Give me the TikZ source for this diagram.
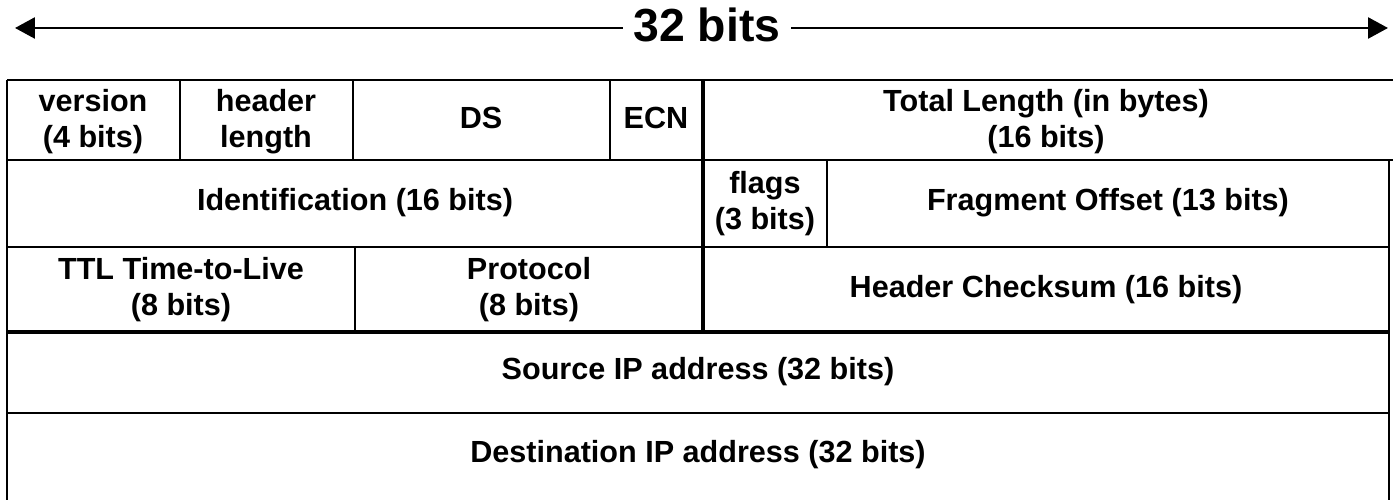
\documentclass[tikz,border=0pt]{standalone}
\usepackage{fontspec}
\setmainfont{Liberation Sans}
\usetikzlibrary{arrows.meta}

\tikzset{
  field/.style={align=center, inner sep=0pt, font=\fontsize{8.7}{10.2}\selectfont\bfseries},
  rule/.style={line width=0.8pt},
  heavyrule/.style={line width=1.2pt},
  span/.style={line width=0.75pt, -{Triangle[length=0.2cm, width=0.21cm]}},
}

\begin{document}
\begin{tikzpicture}
        \useasboundingbox (0,0) rectangle (13.93,5);
        % width arrow
        \coordinate (lend) at (0.15,4.72);
        \coordinate (rend) at (13.88,4.72);
        \node[inner xsep=0.1cm, inner ysep=0pt, font=\fontsize{13.2}{15}\selectfont\bfseries] (title) at (7.07,4.755) {32 bits};
        \draw[span] (title.west |- lend) -- (lend);
        \draw[span] (title.east |- rend) -- (rend);
        % outer frame and rows
        \draw[rule] (0.07,4.20) -- (13.93,4.20);
        \draw[rule] (0.07,4.20) -- (0.07,0);
        \draw[rule] (0.07,3.40) -- (13.93,3.40);
        \draw[rule] (13.89,3.40) -- (13.89,0);
        \draw[rule] (0.07,2.53) -- (13.89,2.53);
        \draw[heavyrule] (0.07,1.68) -- (13.89,1.68);
        \draw[line width=0.6pt] (0.07,0.87) -- (13.89,0.87);
        % column dividers
        \draw[rule] (1.80,4.20) -- (1.80,3.40);
        \draw[rule] (3.53,4.20) -- (3.53,3.40);
        \draw[rule] (6.10,4.20) -- (6.10,3.40);
        \draw[heavyrule] (7.03,4.20) -- (7.03,1.68);
        \draw[rule] (8.27,3.40) -- (8.27,2.53);
        \draw[rule] (3.55,2.53) -- (3.55,1.68);
        % fields
        \node[field] (version) at (0.93,3.78) {version\\(4 bits)};
        \node[field] (hlen) at (2.66,3.78) {header\\length};
        \node[field] (ds) at (4.81,3.82) {DS};
        \node[field] (ecn) at (6.56,3.82) {ECN};
        \node[field] (tlen) at (10.46,3.78) {Total Length (in bytes)\\(16 bits)};
        \node[field] (ident) at (3.55,2.97) {Identification (16 bits)};
        \node[field] (flags) at (7.65,2.96) {flags\\(3 bits)};
        \node[field] (frag) at (11.08,2.97) {Fragment Offset (13 bits)};
        \node[field] (ttl) at (1.81,2.10) {TTL Time-to-Live\\(8 bits)};
        \node[field] (proto) at (5.29,2.10) {Protocol\\(8 bits)};
        \node[field] (csum) at (10.46,2.10) {Header Checksum (16 bits)};
        \node[field] (src) at (6.98,1.28) {Source IP address (32 bits)};
        \node[field] (dst) at (6.98,0.45) {Destination IP address (32 bits)};
\end{tikzpicture}
\end{document}
